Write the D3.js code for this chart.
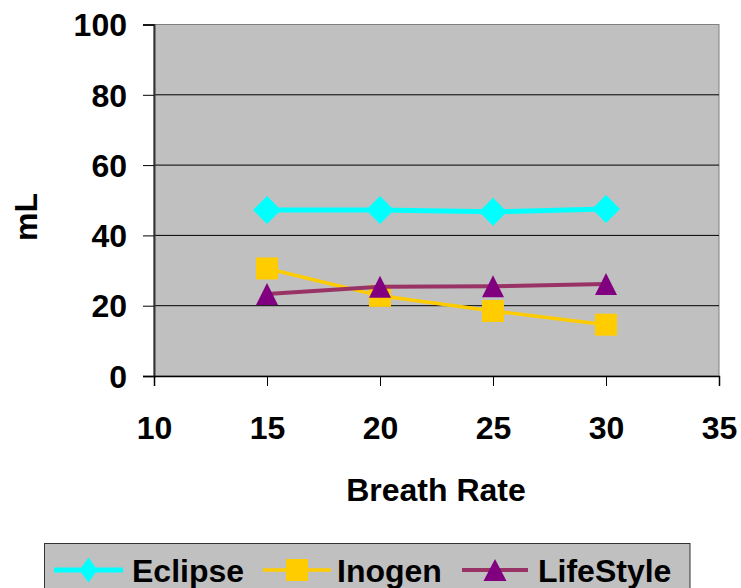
<!DOCTYPE html>
<html><head><meta charset="utf-8">
<script src="https://cdn.jsdelivr.net/npm/d3@7"></script>
<style>html,body{margin:0;padding:0;background:#fff;}svg{display:block;}</style>
</head><body>
<script>
const breathRates = [15, 20, 25, 30];
const eclipse = [47.2, 47.2, 46.7, 47.5];
const inogen = [30.6, 22.8, 18.5, 14.6];
const lifestyle = [23.3, 25.4, 25.5, 26.2];
const xTicks = [10, 15, 20, 25, 30, 35];
const yTicks = [0, 20, 40, 60, 80, 100];
const seriesNames = ["Eclipse", "Inogen", "LifeStyle"];

const W = 741, H = 588;
const L = 154, T = 24.5, R = 719, B = 376;
const font = "'Liberation Sans', Arial, Helvetica, sans-serif";

const svg = d3.select("body").append("svg").attr("width", W).attr("height", H)
  .style("font-family", font).style("font-weight", "bold");

const x = d3.scaleLinear().domain([10, 35]).range([L, R]);
const y = d3.scaleLinear().domain([0, 100]).range([B, T]);

// plot background
svg.append("rect").attr("x", L).attr("y", T).attr("width", R - L).attr("height", B - T)
  .attr("fill", "#c0c0c0").attr("stroke", "#808080").attr("stroke-width", 1);

// gridlines
svg.append("g").selectAll("line").data(yTicks.filter(v => v > 0 && v < 100)).join("line")
  .attr("x1", L).attr("x2", R).attr("y1", d => y(d)).attr("y2", d => y(d))
  .attr("stroke", "#000").attr("stroke-width", 1);

// y axis
const yAxis = d3.axisLeft(y).tickValues(yTicks).tickSize(11).tickPadding(16).tickFormat(d3.format("d"));
const gy = svg.append("g").attr("transform", `translate(${L},0)`).call(yAxis);
gy.select(".domain").attr("stroke", "#333").attr("stroke-width", 2);
gy.selectAll(".tick line").attr("stroke", "#000");
gy.selectAll(".tick text").attr("fill", "#000").style("font-size", "32px")
  .style("font-family", font).style("font-weight", "bold").attr("dy", "0.35em");

// x axis
const xAxis = d3.axisBottom(x).tickValues(xTicks).tickSize(10).tickPadding(30).tickFormat(d3.format("d"));
const gx = svg.append("g").attr("transform", `translate(0,${B})`).call(xAxis);
gx.select(".domain").attr("stroke", "#000").attr("stroke-width", 1.5);
gx.selectAll(".tick line").attr("stroke", "#000");
gx.selectAll(".tick text").attr("fill", "#000").style("font-size", "32px")
  .style("font-family", font).style("font-weight", "bold").attr("y", 63).attr("dy", "0");

// axis titles
svg.append("text").attr("x", 436).attr("y", 501).attr("text-anchor", "middle")
  .style("font-size", "32px").text("Breath Rate");
svg.append("text").attr("transform", "translate(37,217) rotate(-90)").attr("text-anchor", "middle")
  .style("font-size", "32px").text("mL");

const series = [
  {name: seriesNames[0], values: eclipse, line: "#00ffff", fill: "#00ffff", lw: 5, shape: "diamond"},
  {name: seriesNames[1], values: inogen, line: "#ffcc00", fill: "#ffcc00", lw: 3.5, shape: "square"},
  {name: seriesNames[2], values: lifestyle, line: "#993366", fill: "#800080", lw: 4, shape: "triangle"}
];

function markerPath(shape, w, h) {
  const a = w / 2, b = h / 2;
  if (shape === "diamond") return `M0,${-b}L${a},0L0,${b}L${-a},0Z`;
  if (shape === "square") return `M${-a},${-b}H${a}V${b}H${-a}Z`;
  return `M0,${-b}L${a},${b}L${-a},${b}Z`;
}
const markerSize = {diamond: [28, 28], square: [22, 22], triangle: [22, 22]};

const line = d3.line().x(d => x(d[0])).y(d => y(d[1]));
series.forEach(s => {
  const pts = breathRates.map((r, i) => [r, s.values[i]]);
  const g = svg.append("g");
  g.append("path").attr("d", line(pts)).attr("fill", "none").attr("stroke", s.line)
    .attr("stroke-width", s.lw).attr("stroke-linejoin", "round");
  g.selectAll("path.m").data(pts).join("path").attr("class", "m")
    .attr("transform", d => `translate(${x(d[0])},${y(d[1])})`)
    .attr("d", markerPath(s.shape, ...markerSize[s.shape])).attr("fill", s.fill);
});

// legend
const lg = svg.append("g");
lg.append("rect").attr("x", 44.5).attr("y", 543.5).attr("width", 645.5).attr("height", 60)
  .attr("fill", "#c0c0c0").attr("stroke", "#333").attr("stroke-width", 1);
const legendPos = [
  {x1: 54, x2: 123, tx: 132, ms: [18, 25]},
  {x1: 263, x2: 331, tx: 337, ms: [22, 22]},
  {x1: 462, x2: 528, tx: 538, ms: [23, 22]}
];
series.forEach((s, i) => {
  const p = legendPos[i];
  const cx = (p.x1 + p.x2) / 2, cy = 570;
  lg.append("line").attr("x1", p.x1).attr("x2", p.x2).attr("y1", cy).attr("y2", cy)
    .attr("stroke", s.line).attr("stroke-width", s.lw);
  lg.append("path").attr("transform", `translate(${cx},${cy})`)
    .attr("d", markerPath(s.shape, ...p.ms)).attr("fill", s.fill);
  lg.append("text").attr("x", p.tx).attr("y", 581.5).style("font-size", "32px").text(s.name);
});
</script>
</body></html>
